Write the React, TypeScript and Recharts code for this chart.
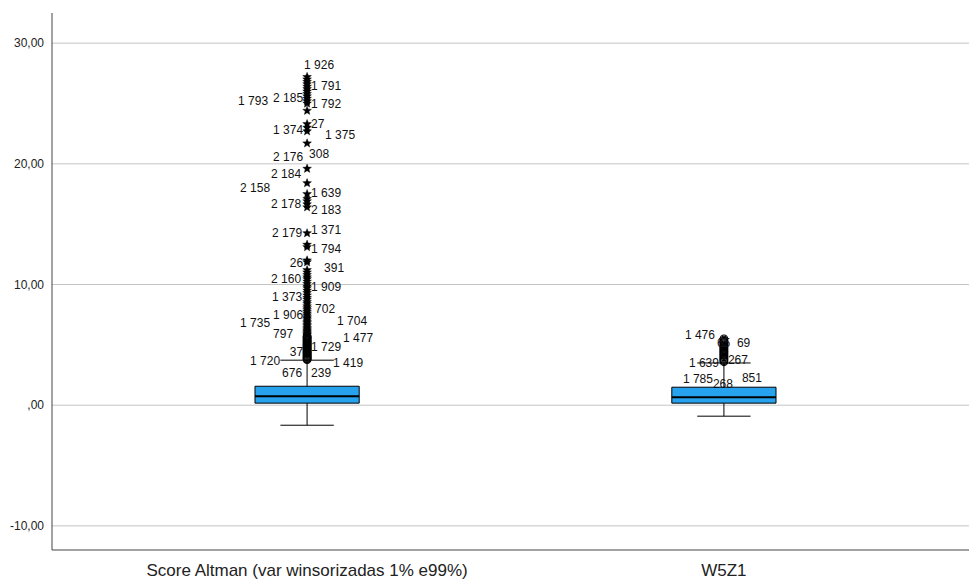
import {
  ComposedChart,
  XAxis,
  YAxis,
  Scatter,
  ReferenceArea,
  ReferenceLine,
} from "recharts";

// categories and box statistics
const categories = ["Score Altman (var winsorizadas 1% e99%)", "W5Z1"];
const q1 = [0.17, 0.17];
const median = [0.75, 0.66];
const q3 = [1.57, 1.49];
const whiskerLow = [-1.66, -0.91];
const whiskerHigh = [3.73, 3.5];
const yTicks = [-10, 0, 10, 20, 30];

// outliers: circles (mild) and stars (extreme)
const altmanCircles = [
  3.78, 3.85, 3.9, 3.98, 4.05, 4.12, 4.2, 4.28, 4.35, 4.4, 4.5, 4.58, 4.65, 4.7,
  4.8, 4.88, 4.95, 5.02, 5.1, 5.18, 5.25, 5.33, 5.4, 5.5, 5.58, 5.66, 5.74,
];
const altmanStars = [
  5.82, 5.9, 6.0, 6.1, 6.2, 6.3, 6.4, 6.55, 6.65, 6.8, 6.9, 7.05, 7.2, 7.3,
  7.45, 7.6, 7.75, 7.9, 8.05, 8.2, 8.4, 8.55, 8.75, 8.9, 9.1, 9.3, 9.5, 9.7,
  9.85, 10.05, 10.25, 10.45, 10.6, 10.8, 11.0, 11.2, 11.85, 12.0, 13.1, 13.3,
  14.25, 16.4, 16.65, 16.9, 17.1, 17.5, 18.4, 19.6, 21.7, 22.7, 23.0, 23.3,
  24.4, 25.0, 25.2, 25.4, 25.6, 25.8, 26.0, 26.2, 26.4, 26.6, 26.8, 27.0, 27.2,
];
const w5z1Circles = [
  3.6, 3.7, 3.8, 3.9, 4.0, 4.1, 4.2, 4.3, 4.4, 4.5, 4.6, 4.7, 4.8, 4.9, 5.0,
  5.1, 5.2, 5.3, 5.4, 5.5,
];

// case labels: [text, value]
const altmanLabels: [string, number][] = [
  ["1 926", 28.17], ["1 791", 26.5], ["2 185", 25.45], ["1 793", 25.2],
  ["1 792", 25.0], ["1 374", 22.8], ["27", 23.3], ["1 375", 22.4],
  ["2 176", 20.6], ["308", 20.8], ["2 184", 19.2], ["2 158", 18.0],
  ["1 639", 17.6], ["2 178", 16.65], ["2 183", 16.2], ["2 179", 14.25],
  ["1 371", 14.5], ["1 794", 13.0], ["26", 11.8], ["391", 11.35],
  ["2 160", 10.5], ["1 909", 9.8], ["1 373", 8.95], ["702", 7.95],
  ["1 906", 7.45], ["1 735", 6.8], ["1 704", 6.96], ["797", 5.9],
  ["1 477", 5.6], ["1 729", 4.8], ["37", 4.4], ["1 720", 3.65],
  ["1 419", 3.5], ["676", 2.65], ["239", 2.65],
];
const w5z1Labels: [string, number][] = [
  ["1 476", 5.8], ["65", 5.2], ["69", 5.2], ["1 639", 3.5],
  ["267", 3.8], ["1 785", 2.15], ["268", 1.8], ["851", 2.3],
];

// label placement (pixels from the box centre; negative = text ends left of it)
const altmanLabelDx = [
  -3, 4, -4, -39, 4, -4, 4, 18, -4, 2, -6, -37, 4, -6, 4, -5, 4, 4, -4, 17,
  -6, 4, -5, 8, -4, -37, 30, -14, 36, 4, -4, -27, 26, -5, 4,
];
const altmanLabelEnd = [
  false, false, true, true, false, true, false, false, true, false, true, true,
  false, true, false, true, false, false, true, false, true, false, true, false,
  true, true, false, true, false, false, true, true, false, true, false,
];
const w5z1LabelDx = [-9, -7, 13, -5, 4, -11, -11, 18];
const w5z1LabelEnd = [true, false, false, true, false, true, false, false];

const FONT = 'Arial, "Liberation Sans", sans-serif';
const BOX_HALF = 0.125;
const CAP_HALF = 0.064;
const BOX_FILL = "#26a2ee";

const pts = (xi: number, vals: number[]) => vals.map((y) => ({ x: xi, y }));

const starPath = (cx: number, cy: number) => {
  const outer = 4.6;
  const inner = 2.0;
  let d = "";
  for (let i = 0; i < 10; i++) {
    const r = i % 2 === 0 ? outer : inner;
    const a = -Math.PI / 2 + (i * Math.PI) / 5;
    d += (i === 0 ? "M" : "L") + (cx + r * Math.cos(a)) + "," + (cy + r * Math.sin(a));
  }
  return d + "Z";
};

const StarShape = (props: any) => {
  const { cx, cy } = props;
  return <path d={starPath(cx, cy)} fill="#000" stroke="#000" strokeWidth={0.4} />;
};

const CircleShape = (props: any) => {
  const { cx, cy } = props;
  return <circle cx={cx} cy={cy} r={3.8} fill="none" stroke="#000" strokeWidth={1.2} />;
};

const makeLabelShape = (dx: number[], end: boolean[]) => (props: any) => {
  const { cx, cy, payload } = props;
  const i = payload.i;
  return (
    <text
      x={cx + dx[i]}
      y={cy}
      dy="0.35em"
      textAnchor={end[i] ? "end" : "start"}
      fontSize={12}
      fontFamily={FONT}
      fill="#111"
    >
      {payload.text}
    </text>
  );
};

const altmanLabelData = altmanLabels.map(([text, y], i) => ({ x: 1, y, text, i }));
const w5z1LabelData = w5z1Labels.map(([text, y], i) => ({ x: 2, y, text, i }));

const yFmt = (v: number) => (v === 0 ? ",00" : v.toFixed(2).replace(".", ","));

export default function App() {
  return (
    <div style={{ position: "absolute", left: 0, top: 0, background: "#fff" }}>
      <ComposedChart
        width={969}
        height={581}
        margin={{ top: 13, right: 0, left: 0, bottom: 0 }}
      >
        <XAxis
          type="number"
          dataKey="x"
          domain={[0.388, 2.588]}
          ticks={[1, 2]}
          tickFormatter={(v: number) => categories[v - 1]}
          height={31}
          tickLine={false}
          tickMargin={8}
          axisLine={{ stroke: "#444" }}
          tick={{ fontSize: 17, fill: "#222", fontFamily: FONT }}
        />
        <YAxis
          type="number"
          dataKey="y"
          domain={[-12, 32.5]}
          ticks={yTicks}
          tickFormatter={yFmt}
          width={52}
          tickLine={false}
          axisLine={{ stroke: "#444" }}
          tick={{ fontSize: 12, fill: "#222", fontFamily: FONT }}
        />
        {yTicks.map((t) => (
          <ReferenceLine key={"g" + t} y={t} stroke="#c4c4c4" />
        ))}
        {categories.map((c, k) => {
          const x = k + 1;
          return [
            <ReferenceLine key={c + "wl"} segment={[{ x, y: whiskerLow[k] }, { x, y: q1[k] }]} stroke="#000" />,
            <ReferenceLine key={c + "wh"} segment={[{ x, y: q3[k] }, { x, y: whiskerHigh[k] }]} stroke="#000" />,
            <ReferenceLine
              key={c + "cl"}
              segment={[{ x: x - CAP_HALF, y: whiskerLow[k] }, { x: x + CAP_HALF, y: whiskerLow[k] }]}
              stroke="#000"
            />,
            <ReferenceLine
              key={c + "ch"}
              segment={[{ x: x - CAP_HALF, y: whiskerHigh[k] }, { x: x + CAP_HALF, y: whiskerHigh[k] }]}
              stroke="#000"
            />,
            <ReferenceArea
              key={c + "box"}
              x1={x - BOX_HALF}
              x2={x + BOX_HALF}
              y1={q1[k]}
              y2={q3[k]}
              fill={BOX_FILL}
              fillOpacity={1}
              stroke="#000"
              strokeWidth={1}
            />,
            <ReferenceLine
              key={c + "med"}
              segment={[{ x: x - BOX_HALF, y: median[k] }, { x: x + BOX_HALF, y: median[k] }]}
              stroke="#000"
              strokeWidth={2}
            />,
          ];
        })}
        <Scatter data={pts(1, altmanCircles)} shape={CircleShape} isAnimationActive={false} />
        <Scatter data={pts(1, altmanStars)} shape={StarShape} isAnimationActive={false} />
        <Scatter data={pts(2, w5z1Circles)} shape={CircleShape} isAnimationActive={false} />
        <Scatter
          data={altmanLabelData}
          shape={makeLabelShape(altmanLabelDx, altmanLabelEnd)}
          isAnimationActive={false}
        />
        <Scatter
          data={w5z1LabelData}
          shape={makeLabelShape(w5z1LabelDx, w5z1LabelEnd)}
          isAnimationActive={false}
        />
      </ComposedChart>
    </div>
  );
}
